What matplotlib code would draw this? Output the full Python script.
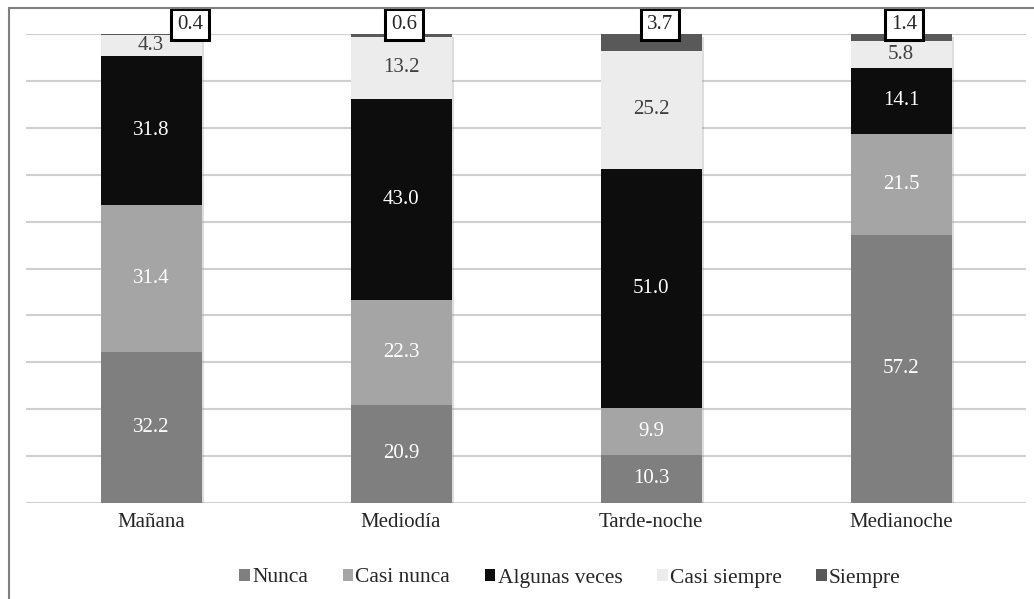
import matplotlib.pyplot as plt
import matplotlib.patheffects as pe
from matplotlib.patches import Rectangle, Patch
import numpy as np

plt.rcParams['font.family'] = ['Liberation Serif', 'DejaVu Serif']

categories = ["Mañana", "Mediodía", "Tarde-noche", "Medianoche"]
series_names = ["Nunca", "Casi nunca", "Algunas veces", "Casi siempre", "Siempre"]
nunca = [32.2, 20.9, 10.3, 57.2]
casi_nunca = [31.4, 22.3, 9.9, 21.5]
algunas_veces = [31.8, 43.0, 51.0, 14.1]
casi_siempre = [4.3, 13.2, 25.2, 5.8]
siempre = [0.4, 0.6, 3.7, 1.4]

colors = ["#7f7f7f", "#a5a5a5", "#0d0d0d", "#ececec", "#595959"]
text_colors = ["white", "white", "white", "#404040", None]
# horizontal offset of the boxed "Siempre" labels, in category units
box_offsets = [0.156, 0.012, 0.036, 0.012]

fig = plt.figure(figsize=(10.34, 5.99), dpi=100)
ax = fig.add_axes([26 / 1034, 1 - 503 / 599, 1000 / 1034, 469 / 599])

x = np.arange(len(categories))
width = 0.404
series = [nunca, casi_nunca, algunas_veces, casi_siempre, siempre]
totals = np.sum(series, axis=0)

# one shadowed backing bar per column so the segments stay clean
shadow = [pe.SimplePatchShadow(offset=(2, -2), shadow_rgbFace="#a0a0a0", alpha=0.35), pe.Normal()]
ax.bar(x, np.minimum(totals, 100), width, color="white", zorder=2, path_effects=shadow)

bottom = np.zeros(len(categories))
for i, vals in enumerate(series):
    vals = np.array(vals)
    ax.bar(x, vals, width, bottom=bottom, color=colors[i], label=series_names[i], zorder=3)
    if i < 4:
        for xi, b, v in zip(x, bottom, vals):
            ax.text(xi, b + v / 2, f"{v:.1f}", ha="center", va="center",
                    fontsize=15, color=text_colors[i], zorder=4)
    else:
        for xi, v, off in zip(x, vals, box_offsets):
            ax.text(xi + off, 102, f"{v:.1f}", ha="center", va="center",
                    fontsize=15, color="#262626", zorder=5, clip_on=False,
                    bbox=dict(boxstyle="square,pad=0.3", fc="white", ec="black", lw=2.2))
    bottom += vals

ax.set_xlim(-0.5, 3.5)
ax.set_ylim(0, 100)
ax.set_yticks(np.arange(0, 101, 10))
ax.yaxis.grid(True, color="#d0d0d0", lw=1.5, zorder=0)
ax.tick_params(axis="y", length=0, labelleft=False)
ax.tick_params(axis="x", length=0, pad=7, labelsize=15, labelcolor="#262626")
ax.set_xticks(x)
ax.set_xticklabels(categories)
for s in ax.spines.values():
    s.set_visible(False)

handles = [Patch(facecolor=c) for c in colors]
fig.legend(handles, series_names, loc="center", bbox_to_anchor=(570 / 1034, 1 - 578 / 599),
           ncol=5, frameon=False, fontsize=15.5, handlelength=0.5, handleheight=0.5,
           handletextpad=0.1, columnspacing=1.6, labelcolor="#262626")

# outer frame
fig.patches.append(Rectangle((9 / 1034, -0.1), 1.2, 1 - 8 / 599 + 0.1,
                             transform=fig.transFigure, fill=False, ec="#808080", lw=1.5))

fig.savefig("out.png", dpi=100, facecolor="white")
